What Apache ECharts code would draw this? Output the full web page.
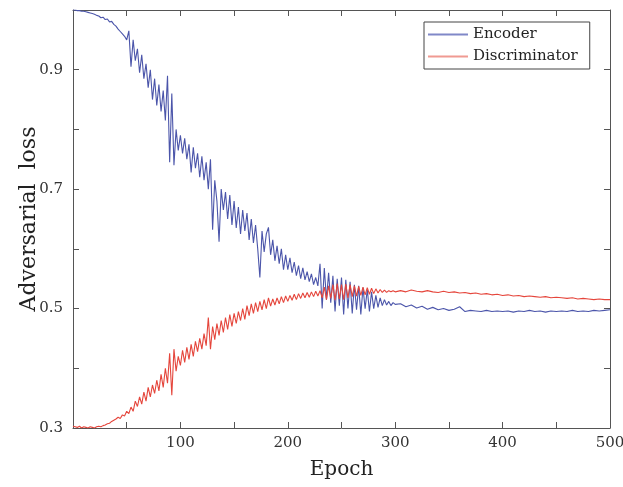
<!DOCTYPE html>
<html><head><meta charset="utf-8">
<script src="https://cdn.jsdelivr.net/npm/echarts@6/dist/echarts.min.js"></script>
<style>html,body{margin:0;padding:0;background:#fff}#c{width:623px;height:487px}</style>
</head><body><div id="c"></div>
<script>
// Sampling grid: every 2 epochs up to 300, then every 5 epochs up to 500
const epochsHead = []; for (let e = 0; e <= 300; e += 2) epochsHead.push(e);
const epochsTail = []; for (let e = 305; e <= 500; e += 5) epochsTail.push(e);

const encoderHead = [1.000,
 1.000,0.999,0.999,0.998,0.998,0.997,0.996,0.995,0.994,0.993,
 0.991,0.990,0.987,0.988,0.984,0.985,0.980,0.981,0.976,0.973,
 0.968,0.964,0.960,0.956,0.950,0.965,0.905,0.950,0.915,0.935,
 0.895,0.925,0.885,0.910,0.870,0.900,0.850,0.885,0.840,0.875,
 0.830,0.865,0.815,0.890,0.745,0.860,0.740,0.800,0.765,0.790,
 0.760,0.785,0.750,0.775,0.728,0.770,0.735,0.760,0.720,0.755,
 0.715,0.745,0.700,0.750,0.632,0.715,0.680,0.612,0.700,0.665,
 0.695,0.650,0.690,0.640,0.680,0.635,0.670,0.625,0.665,0.630,
 0.660,0.615,0.650,0.610,0.640,0.600,0.552,0.630,0.595,0.625,
 0.636,0.590,0.615,0.580,0.605,0.575,0.600,0.565,0.590,0.565,
 0.585,0.560,0.578,0.555,0.572,0.550,0.568,0.548,0.562,0.545,
 0.558,0.540,0.552,0.538,0.575,0.500,0.568,0.515,0.560,0.510,
 0.555,0.495,0.550,0.505,0.552,0.490,0.548,0.500,0.545,0.492,
 0.540,0.498,0.538,0.490,0.535,0.500,0.532,0.495,0.528,0.500,
 0.522,0.502,0.518,0.505,0.515,0.506,0.512,0.505,0.510,0.507];
const encoderTail = [
 0.508,0.503,0.506,0.501,0.504,0.499,0.502,0.498,0.500,0.497,
 0.499,0.503,0.495,0.497,0.496,0.495,0.497,0.495,0.496,0.495,
 0.496,0.494,0.496,0.495,0.497,0.495,0.496,0.494,0.496,0.495,
 0.496,0.495,0.497,0.495,0.496,0.495,0.497,0.496,0.497,0.498];

const discHead = [0.303,
 0.302,0.301,0.303,0.300,0.302,0.301,0.300,0.302,0.301,0.300,
 0.302,0.303,0.302,0.304,0.305,0.307,0.308,0.311,0.313,0.315,
 0.318,0.316,0.322,0.320,0.328,0.324,0.335,0.328,0.345,0.336,
 0.352,0.340,0.360,0.345,0.368,0.352,0.372,0.358,0.380,0.362,
 0.390,0.368,0.400,0.375,0.425,0.355,0.432,0.395,0.420,0.405,
 0.430,0.410,0.435,0.415,0.440,0.420,0.445,0.428,0.450,0.432,
 0.458,0.438,0.485,0.432,0.470,0.448,0.475,0.455,0.480,0.460,
 0.485,0.465,0.490,0.470,0.492,0.475,0.495,0.480,0.500,0.482,
 0.505,0.488,0.508,0.492,0.510,0.495,0.512,0.498,0.515,0.500,
 0.518,0.504,0.516,0.506,0.518,0.508,0.520,0.510,0.521,0.512,
 0.522,0.514,0.524,0.515,0.525,0.517,0.526,0.518,0.527,0.519,
 0.528,0.520,0.529,0.521,0.530,0.518,0.536,0.515,0.538,0.517,
 0.540,0.514,0.542,0.516,0.540,0.515,0.541,0.518,0.540,0.520,
 0.538,0.521,0.537,0.522,0.536,0.523,0.535,0.524,0.534,0.525,
 0.533,0.526,0.532,0.527,0.531,0.527,0.530,0.528,0.530,0.528];
const discTail = [
 0.530,0.528,0.531,0.529,0.528,0.530,0.528,0.527,0.529,0.527,
 0.528,0.526,0.527,0.525,0.526,0.524,0.525,0.523,0.524,0.522,
 0.523,0.521,0.522,0.520,0.521,0.520,0.519,0.520,0.518,0.519,
 0.518,0.517,0.518,0.516,0.517,0.516,0.515,0.516,0.515,0.515];

const xTickLabels = [100, 200, 300, 400, 500];
const yTickLabels = [0.3, 0.5, 0.7, 0.9];

function pairs(xs, ys) { const out = []; for (let i = 0; i < Math.min(xs.length, ys.length); i++) out.push([xs[i], ys[i]]); return out; }
const encoderData = pairs(epochsHead, encoderHead).concat(pairs(epochsTail, encoderTail));
const discData = pairs(epochsHead, discHead).concat(pairs(epochsTail, discTail));

const FONT = '"DejaVu Serif", "Liberation Serif", serif';
const AX = '#555';
function tick() { return { show: true, inside: true, length: 6, lineStyle: { color: AX, width: 1 } }; }
function line() { return { show: true, onZero: false, lineStyle: { color: AX, width: 1 } }; }

const chart = echarts.init(document.getElementById('c'));
chart.setOption({
  animation: false,
  backgroundColor: '#fff',
  grid: { left: 73, right: 13, top: 10, bottom: 59, containLabel: false, outerBoundsMode: 'none' },
  xAxis: [
    { type: 'value', min: 0, max: 500, interval: 50, position: 'bottom',
      axisLine: line(), axisTick: tick(), splitLine: { show: false },
      name: 'Epoch', nameLocation: 'middle', nameGap: 32, nameMoveOverlap: false,
      nameTextStyle: { fontFamily: FONT, fontSize: 20, color: '#222' },
      axisLabel: { fontFamily: FONT, fontSize: 15, color: '#333', margin: 8,
        formatter: v => xTickLabels.indexOf(Math.round(v)) >= 0 ? String(Math.round(v)) : '' } },
    { type: 'value', min: 0, max: 500, interval: 50, position: 'top',
      axisLine: line(), axisTick: tick(), splitLine: { show: false }, axisLabel: { show: false } }
  ],
  yAxis: [
    { type: 'value', min: 0.3, max: 1.0, interval: 0.1, position: 'left',
      axisLine: line(), axisTick: tick(), splitLine: { show: false },
      name: 'Adversarial  loss', nameLocation: 'middle', nameGap: 33, nameMoveOverlap: false,
      nameTextStyle: { fontFamily: FONT, fontSize: 22, color: '#222' },
      axisLabel: { fontFamily: FONT, fontSize: 15, color: '#333', margin: 10,
        formatter: v => { const r = Math.round(v * 10) / 10; return yTickLabels.indexOf(r) >= 0 ? r.toFixed(1) : ''; } } },
    { type: 'value', min: 0.3, max: 1.0, interval: 0.1, position: 'right',
      axisLine: line(), axisTick: tick(), splitLine: { show: false }, axisLabel: { show: false } }
  ],
  legend: {
    orient: 'vertical', left: 424, top: 22,
    backgroundColor: '#fff', borderColor: '#444', borderWidth: 1, borderRadius: 0,
    padding: [4, 12, 4, 4], itemGap: 5, itemWidth: 40, itemHeight: 2, icon: 'rect',
    textStyle: { fontFamily: FONT, fontSize: 15, lineHeight: 17, color: '#222' },
    data: ['Encoder', 'Discriminator']
  },
  series: [
    { name: 'Encoder', type: 'line', data: encoderData, showSymbol: false, symbol: 'none',
      lineStyle: { color: '#4b55aa', width: 1.1 }, itemStyle: { color: '#8088c8' } },
    { name: 'Discriminator', type: 'line', data: discData, showSymbol: false, symbol: 'none',
      lineStyle: { color: '#e5463c', width: 1.1 }, itemStyle: { color: '#f09a92' } }
  ]
});
</script></body></html>
